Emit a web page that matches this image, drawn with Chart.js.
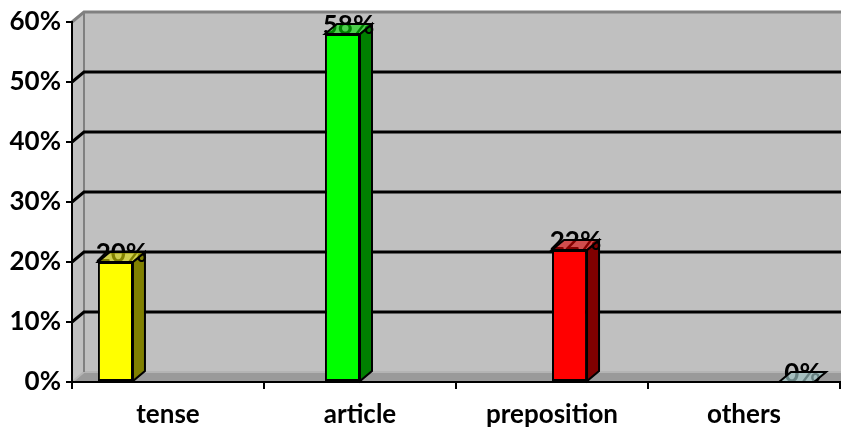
<!DOCTYPE html>
<html>
<head>
<meta charset="utf-8">
<script src="https://cdn.jsdelivr.net/npm/chart.js@4/dist/chart.umd.min.js"></script>
<style>
  html, body { margin: 0; padding: 0; background: #ffffff; }
  #wrap { width: 841px; height: 428px; }
</style>
</head>
<body>
<div id="wrap"><canvas id="c" width="841" height="428"></canvas></div>
<script>
// Error types and their share (%)
const categories = ['tense', 'article', 'preposition', 'others'];
const percentValues = [20, 58, 22, 0];
const yTickMax = 60;
const yTickStep = 10;

// Face colours for each column: front, side
const frontColors = ['#FFFF00', '#00FF00', '#FF0000', '#CCFFFF'];
const sideColors = ['#808000', '#008000', '#800000', '#669999'];

const DEPTH_X = 12;
const DEPTH_Y = 10;
const LABEL_FONT = 'bold 26px Lato';

function shade(hex, f) {
  const n = parseInt(hex.slice(1), 16);
  const r = Math.round(((n >> 16) & 255) * f);
  const g = Math.round(((n >> 8) & 255) * f);
  const b = Math.round((n & 255) * f);
  return `rgb(${r},${g},${b})`;
}

function poly(ctx, pts, fill, stroke, lw) {
  ctx.beginPath();
  ctx.moveTo(pts[0][0], pts[0][1]);
  for (let i = 1; i < pts.length; i++) ctx.lineTo(pts[i][0], pts[i][1]);
  ctx.closePath();
  if (fill) { ctx.fillStyle = fill; ctx.fill(); }
  if (stroke) { ctx.strokeStyle = stroke; ctx.lineWidth = lw || 2; ctx.stroke(); }
}

// Back wall, side wall, floor and wall gridlines
const walls = {
  id: 'walls',
  beforeDraw(chart) {
    const { ctx, chartArea: ca, scales } = chart;
    const L = ca.left, T = ca.top, B = ca.bottom;
    const W = chart.width + 20;
    ctx.save();
    // back wall
    ctx.fillStyle = '#C0C0C0';
    ctx.fillRect(L + DEPTH_X, T - DEPTH_Y, W, B - T);
    // side wall
    poly(ctx, [[L, T], [L + DEPTH_X, T - DEPTH_Y], [L + DEPTH_X, B - DEPTH_Y], [L, B]], '#C0C0C0');
    // floor
    poly(ctx, [[L, B], [L + DEPTH_X, B - DEPTH_Y], [W, B - DEPTH_Y], [W, B]], '#9A9A9A');
    ctx.strokeStyle = '#B4B4B4';
    ctx.lineWidth = 2;
    ctx.beginPath();
    ctx.moveTo(L, B); ctx.lineTo(L + DEPTH_X, B - DEPTH_Y); ctx.lineTo(W, B - DEPTH_Y);
    ctx.stroke();
    // wall edges
    ctx.strokeStyle = '#808080';
    ctx.lineWidth = 3;
    ctx.beginPath();
    ctx.moveTo(L, T); ctx.lineTo(L + DEPTH_X, T - DEPTH_Y); ctx.lineTo(W, T - DEPTH_Y);
    ctx.stroke();
    ctx.lineWidth = 2;
    ctx.beginPath();
    ctx.moveTo(L + DEPTH_X, T - DEPTH_Y); ctx.lineTo(L + DEPTH_X, B - DEPTH_Y);
    ctx.stroke();
    // gridlines across side wall and back wall
    ctx.strokeStyle = '#000000';
    ctx.lineWidth = 3;
    const ys = scales.y;
    for (let v = yTickStep; v < yTickMax; v += yTickStep) {
      const y = ys.getPixelForValue(v);
      ctx.beginPath();
      ctx.moveTo(L, y);
      ctx.lineTo(L + DEPTH_X, y - DEPTH_Y);
      ctx.lineTo(W, y - DEPTH_Y);
      ctx.stroke();
    }
    ctx.restore();
  }
};

// Side and top faces of each column, plus value labels
const columns3d = {
  id: 'columns3d',
  afterDatasetsDraw(chart) {
    const { ctx } = chart;
    ctx.save();
    ctx.lineJoin = 'miter';
    chart.data.datasets.forEach((ds, di) => {
      const meta = chart.getDatasetMeta(di);
      meta.data.forEach((bar, i) => {
        const v = ds.data[i];
        if (v === null || v === undefined) return;
        const p = bar.getProps(['x', 'y', 'base', 'width'], true);
        const left = p.x - p.width / 2, right = p.x + p.width / 2;
        const top = p.y, bottom = p.base;
        if (bottom - top > 0.5) {
          poly(ctx, [[right, top], [right + DEPTH_X, top - DEPTH_Y], [right + DEPTH_X, bottom - DEPTH_Y], [right, bottom]],
            sideColors[di], '#000000', 2);
        }
        // value label
        ctx.fillStyle = '#000000';
        ctx.font = LABEL_FONT;
        ctx.textAlign = 'center';
        ctx.textBaseline = 'alphabetic';
        ctx.fillText(v + '%', p.x + DEPTH_X / 2, top);
        // top face, partly see-through over the label
        ctx.globalAlpha = 0.6;
        poly(ctx, [[left, top], [left + DEPTH_X, top - DEPTH_Y], [right + DEPTH_X, top - DEPTH_Y], [right, top]],
          shade(frontColors[di], 0.85));
        ctx.globalAlpha = 1;
        poly(ctx, [[left, top], [left + DEPTH_X, top - DEPTH_Y], [right + DEPTH_X, top - DEPTH_Y], [right, top]],
          null, '#000000', 2);
      });
    });
    ctx.restore();
  }
};

const datasets = categories.map((name, i) => ({
  label: name,
  data: categories.map((_, j) => (j === i ? percentValues[i] : null)),
  backgroundColor: frontColors[i],
  borderColor: '#000000',
  borderWidth: 2,
  borderSkipped: false
}));

new Chart(document.getElementById('c'), {
  type: 'bar',
  data: { labels: categories, datasets },
  options: {
    responsive: false,
    devicePixelRatio: 1,
    animation: false,
    layout: { padding: { top: 22, right: 1, left: 0, bottom: 0 } },
    datasets: { bar: { categoryPercentage: 0.73, barPercentage: 1.0 } },
    plugins: { legend: { display: false }, tooltip: { enabled: false } },
    scales: {
      x: {
        afterFit(scale) { scale.height = 46; },
        grid: { offset: true, drawOnChartArea: false, drawTicks: true, tickLength: 7, color: '#000000', lineWidth: 2 },
        border: { color: '#000000', width: 2 },
        ticks: { color: '#000000', font: { family: 'Lato', size: 26, weight: 'bold' }, padding: 10, maxRotation: 0 }
      },
      y: {
        min: 0,
        max: yTickMax,
        afterFit(scale) { scale.width = 72; },
        grid: { drawOnChartArea: false, drawTicks: true, tickLength: 6, color: '#000000', lineWidth: 2 },
        border: { color: '#000000', width: 2 },
        ticks: {
          stepSize: yTickStep,
          color: '#000000',
          padding: 5,
          font: { family: 'Lato', size: 26, weight: 'bold' },
          callback: (v) => v + '%'
        }
      }
    }
  },
  plugins: [walls, columns3d]
});
</script>
</body>
</html>
